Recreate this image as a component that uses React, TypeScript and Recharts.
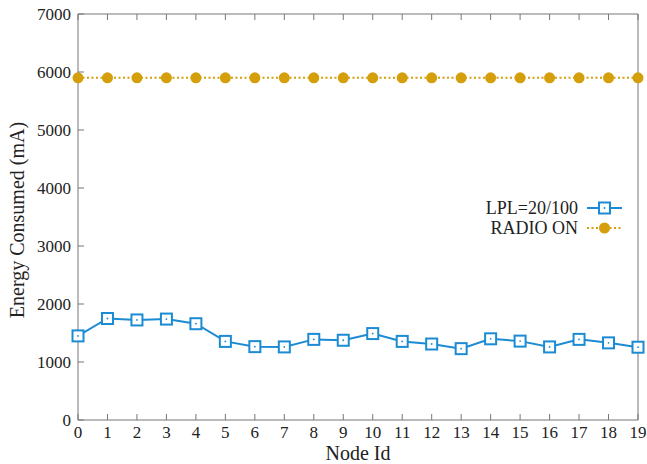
import { Line, LineChart, XAxis, YAxis, Legend } from 'recharts'

const nodeIds = [0, 1, 2, 3, 4, 5, 6, 7, 8, 9, 10, 11, 12, 13, 14, 15, 16, 17, 18, 19]
const lplValues = [1450, 1750, 1725, 1740, 1660, 1355, 1265, 1260, 1390, 1375, 1490, 1355, 1310, 1230, 1400, 1360, 1260, 1390, 1330, 1255]
const radioOnValues = [5900, 5900, 5900, 5900, 5900, 5900, 5900, 5900, 5900, 5900, 5900, 5900, 5900, 5900, 5900, 5900, 5900, 5900, 5900, 5900]
const yTicks = [0, 1000, 2000, 3000, 4000, 5000, 6000, 7000]

const data = nodeIds.map((id, i) => ({ id, lpl: lplValues[i], radio: radioOnValues[i] }))

const BLUE = '#1b8bd3'
const GOLD = '#d49f0a'
const FRAME = '#777'
const FONT = '"Liberation Serif", "DejaVu Serif", serif'
const TICK = 6

const BottomTick = ({ x, y, payload }: any) => (
  <g>
    <line x1={x} y1={y} x2={x} y2={y - TICK} stroke={FRAME} strokeWidth={1} />
    <text x={x} y={y + 18} textAnchor='middle' fontSize={17} fontFamily={FONT} fill='#222'>
      {payload.value}
    </text>
  </g>
)

const TopTick = ({ x, y }: any) => <line x1={x} y1={y} x2={x} y2={y + TICK} stroke={FRAME} strokeWidth={1} />

const LeftTick = ({ x, y, payload }: any) => (
  <g>
    <line x1={x} y1={y} x2={x + TICK} y2={y} stroke={FRAME} strokeWidth={1} />
    <text x={x - 7} y={y} dy='0.35em' textAnchor='end' fontSize={17} fontFamily={FONT} fill='#222'>
      {payload.value}
    </text>
  </g>
)

const RightTick = ({ x, y }: any) => <line x1={x} y1={y} x2={x - TICK} y2={y} stroke={FRAME} strokeWidth={1} />

const SquareDot = ({ cx, cy }: any) => (
  <g>
    <rect x={cx - 5.5} y={cy - 5.5} width={11} height={11} fill='#fff' stroke={BLUE} strokeWidth={2} />
    <circle cx={cx} cy={cy} r={0.9} fill={BLUE} />
  </g>
)

const RoundDot = ({ cx, cy }: any) => <circle cx={cx} cy={cy} r={5.5} fill={GOLD} stroke='none' />

const LegendBox = () => (
  <svg width={160} height={44}>
    <text x={108} y={12} dy='0.35em' textAnchor='end' fontSize={18} fontFamily={FONT} fill='#222'>
      LPL=20/100
    </text>
    <line x1={117} y1={12} x2={152} y2={12} stroke={BLUE} strokeWidth={2} />
    <SquareDot cx={134.5} cy={12} />
    <text x={108} y={32} dy='0.35em' textAnchor='end' fontSize={18} fontFamily={FONT} fill='#222'>
      RADIO ON
    </text>
    <line x1={117} y1={32} x2={152} y2={32} stroke={GOLD} strokeWidth={2} strokeDasharray='2 2.5' />
    <RoundDot cx={134.5} cy={32} />
  </svg>
)

const YTitle = ({ viewBox }: any) => {
  const cx = viewBox.x + 17
  const cy = viewBox.y + viewBox.height / 2 + 3
  return (
    <text
      x={cx}
      y={cy}
      transform={`rotate(-90 ${cx} ${cy})`}
      textAnchor='middle'
      dominantBaseline='central'
      fontSize={20}
      fontFamily={FONT}
      fill='#222'
    >
      Energy Consumed (mA)
    </text>
  )
}

const XTitle = ({ viewBox }: any) => (
  <text
    x={viewBox.x + viewBox.width / 2}
    y={viewBox.y + viewBox.height - 4}
    textAnchor='middle'
    fontSize={20}
    fontFamily={FONT}
    fill='#222'
  >
    Node Id
  </text>
)

const App = () => {
  return (
    <div style={{ position: 'absolute', left: 0, top: 0 }}>
      <LineChart width={647} height={464} data={data} margin={{ top: 13, right: 8, bottom: 0, left: 0 }}>
        <XAxis
          dataKey='id'
          type='number'
          domain={[0, 19]}
          ticks={nodeIds}
          height={44}
          tickLine={false}
          tickSize={0}
          tickMargin={0}
          tick={<BottomTick />}
          stroke={FRAME}
          label={<XTitle />}
        />
        <XAxis
          xAxisId='top'
          orientation='top'
          dataKey='id'
          type='number'
          domain={[0, 19]}
          ticks={nodeIds}
          height={1}
          tickLine={false}
          tickSize={0}
          tickMargin={0}
          tick={<TopTick />}
          stroke={FRAME}
        />
        <YAxis
          type='number'
          domain={[0, 7000]}
          ticks={yTicks}
          width={78}
          tickLine={false}
          tickSize={0}
          tickMargin={0}
          tick={<LeftTick />}
          stroke={FRAME}
          label={<YTitle />}
        />
        <YAxis
          yAxisId='right'
          orientation='right'
          type='number'
          domain={[0, 7000]}
          ticks={yTicks}
          width={1}
          tickLine={false}
          tickSize={0}
          tickMargin={0}
          tick={<RightTick />}
          stroke={FRAME}
        />
        <Legend
          layout='vertical'
          align='center'
          verticalAlign='middle'
          content={<LegendBox />}
          wrapperStyle={{ top: 196, left: 470, width: 160 }}
        />
        <Line
          name='LPL=20/100'
          dataKey='lpl'
          stroke={BLUE}
          strokeWidth={2}
          dot={<SquareDot />}
          activeDot={false}
          isAnimationActive={false}
        />
        <Line
          name='RADIO ON'
          dataKey='radio'
          stroke={GOLD}
          strokeWidth={2}
          strokeDasharray='2 2.5'
          dot={<RoundDot />}
          activeDot={false}
          isAnimationActive={false}
        />
      </LineChart>
    </div>
  )
}

export default App
